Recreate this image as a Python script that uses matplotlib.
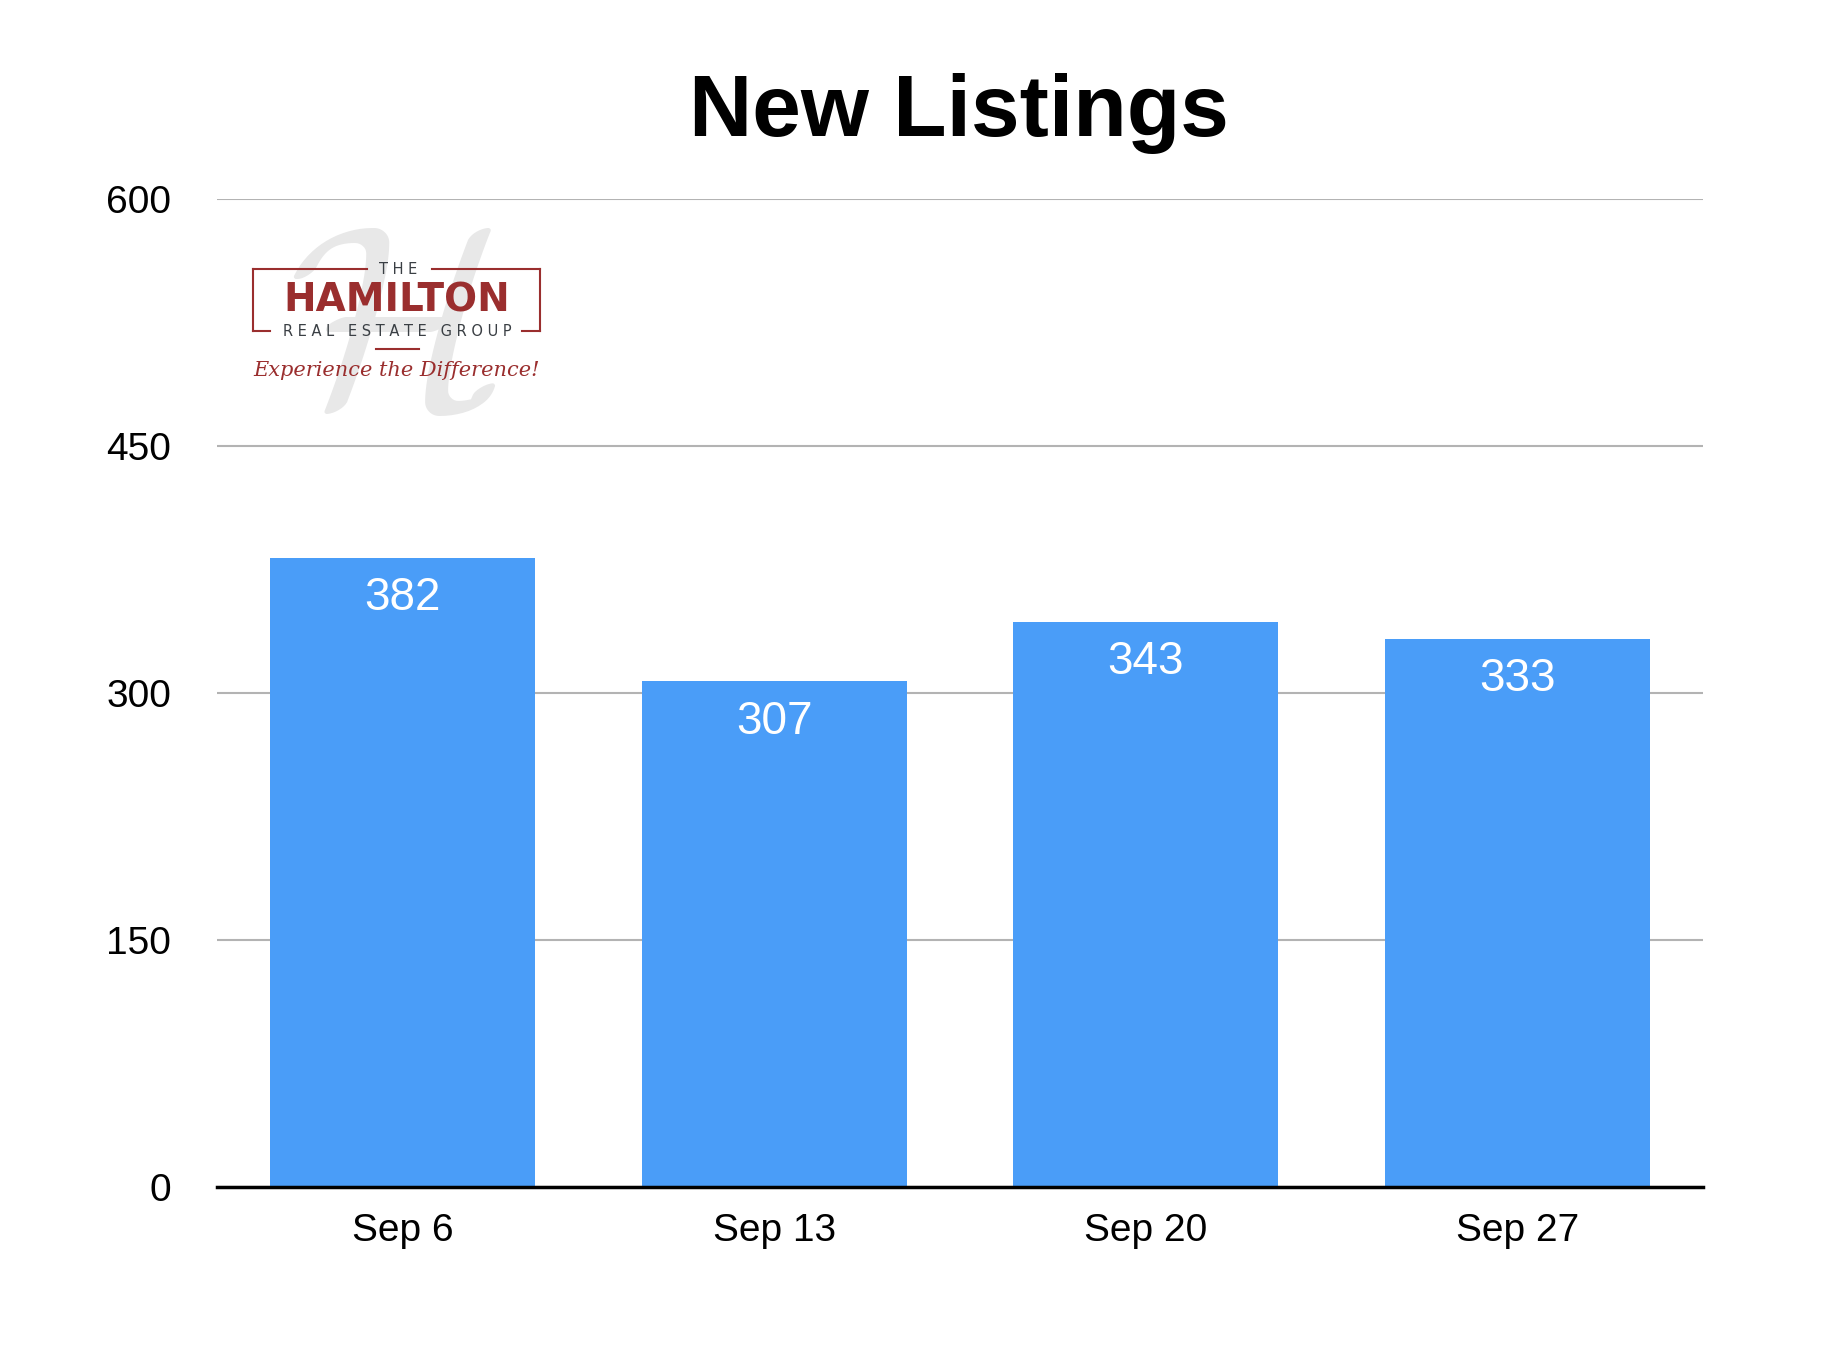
import matplotlib
matplotlib.use("Agg")
import matplotlib.pyplot as plt
from matplotlib.lines import Line2D

categories = ["Sep 6", "Sep 13", "Sep 20", "Sep 27"]
values = [382, 307, 343, 333]
yticks = [0, 150, 300, 450, 600]
title = "New Listings"

W, H = 1848, 1352
fig = plt.figure(figsize=(W / 100, H / 100), dpi=100)
plt.rcParams['font.family'] = ['Liberation Sans', 'DejaVu Sans']

ax = fig.add_axes([217 / W, 1 - 1187 / H, (1703 - 217) / W, (1187 - 199) / H])
bar_color = "#4a9df8"
bars = ax.bar(range(len(categories)), values, width=0.714, color=bar_color, zorder=2)
ax.set_xlim(-0.5, len(categories) - 0.5)
ax.set_ylim(0, 600)
ax.set_yticks(yticks)
ax.set_yticklabels([str(v) for v in yticks])
ax.set_xticks(range(len(categories)))
ax.set_xticklabels(categories)
ax.tick_params(axis='y', length=0, pad=33, labelsize=28)
ax.tick_params(axis='x', length=0, pad=19, labelsize=28)
for s in ['top', 'right', 'left']:
    ax.spines[s].set_visible(False)
ax.spines['bottom'].set_linewidth(2.5)
ax.spines['bottom'].set_color('black')
ax.spines['bottom'].set_zorder(3)
ax.yaxis.grid(True, color='#b3b3b3', linewidth=1.5, zorder=0)
ax.set_axisbelow(True)

for b, v in zip(bars, values):
    ax.annotate(str(v), (b.get_x() + b.get_width() / 2, v), xytext=(0, -29),
                textcoords='offset points', ha='center', va='center',
                color='white', fontsize=33, zorder=4)

fig.text(959 / W, 1 - 114 / H, title, ha='center', va='center',
         fontsize=63, fontweight='bold')

# Logo
def fx(x):
    return x / W

def fy(y):
    return 1 - y / H

red = "#9a2e2e"
dark = "#3a3f44"
fig.text(fx(392), fy(337), r"$\mathcal{H}$", ha='center', va='center', fontsize=185,
         color='#e8e8e8', math_fontfamily='cm', zorder=0)
fig.text(fx(398), fy(270), "T H E", ha='center', va='center', fontsize=10.5,
         color=dark, family=['DejaVu Sans'])
fig.text(fx(397), fy(300), "HAMILTON", ha='center', va='center', fontsize=28,
         color=red, fontweight='bold', family=['DejaVu Sans'])
fig.text(fx(397), fy(332), "R E A L   E S T A T E   G R O U P", ha='center', va='center',
         fontsize=10.5, color=dark, family=['DejaVu Sans'])
fig.text(fx(397), fy(370), "Experience the Difference!", ha='center', va='center',
         fontsize=15, color=red, family=['DejaVu Serif'], style='italic')

segs = [((253, 269), (367, 269)), ((432, 269), (540, 269)),
        ((253, 269), (253, 331)), ((540, 269), (540, 331)),
        ((253, 331), (270, 331)), ((522, 331), (540, 331)),
        ((376, 349), (419, 349))]
for (x0, y0), (x1, y1) in segs:
    fig.add_artist(Line2D([fx(x0), fx(x1)], [fy(y0), fy(y1)], color=red,
                          linewidth=1.5, transform=fig.transFigure))

fig.savefig("out.png", dpi=100)
